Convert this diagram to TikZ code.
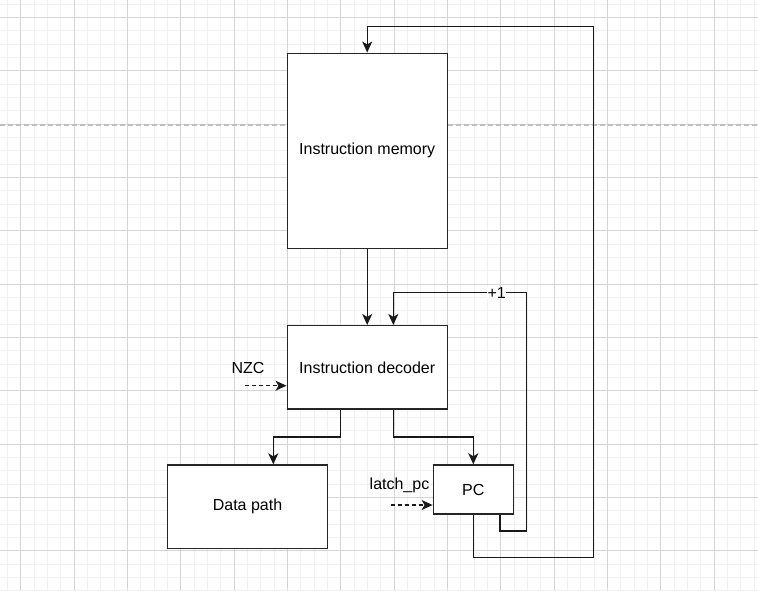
\documentclass[tikz,border=0pt]{standalone}
\usepackage{fontspec}
\setmainfont{Liberation Sans}
\usetikzlibrary{arrows.meta}
\begin{document}
\begin{tikzpicture}[x=1pt,y=-1pt,
  box/.style={draw=black!85,line width=1.4pt,fill=white,inner sep=0pt,font=\fontsize{16}{19}\selectfont},
  wire/.style={line width=1.4pt,draw=black!90,-{Stealth[length=11pt,width=10pt,inset=3pt]}},
  dwire/.style={line width=1.4pt,draw=black!90,dash pattern=on 4pt off 3pt,-{Stealth[length=11pt,width=10pt,inset=3pt]}},
  lbl/.style={font=\fontsize{16}{19}\selectfont,inner sep=1pt}]
\useasboundingbox (0,0) rectangle (758,590);
\fill[white] (0,0) rectangle (758,590);
% minor grid
\foreach \i in {0,...,57} {\draw[line width=0.6pt,draw=black!6] ({7.33+13.333*\i},0) -- ({7.33+13.333*\i},590);}
\foreach \i in {0,...,44} {\draw[line width=0.6pt,draw=black!6] (0,{4+13.333*\i}) -- (758,{4+13.333*\i});}
% major grid
\foreach \i in {0,...,14} {\draw[line width=0.8pt,draw=black!17] ({20.67+53.333*\i},0) -- ({20.67+53.333*\i},590);}
\foreach \i in {0,...,11} {\draw[line width=0.8pt,draw=black!17] (0,{17.33+53.333*\i}) -- (758,{17.33+53.333*\i});}
% page break line
\draw[line width=1.2pt,draw=black!25,dash pattern=on 5pt off 3pt] (0,125) -- (758,125);
% boxes
\node[box,minimum width=160pt,minimum height=195pt] (im) at (367.2,150.7) {Instruction memory};
\node[box,minimum width=160pt,minimum height=83.3pt] (id) at (367.2,367.3) {Instruction decoder};
\node[box,minimum width=159.6pt,minimum height=83.3pt] (dp) at (247.5,506.7) {Data path};
\node[box,minimum width=80pt,minimum height=49pt] (pc) at (473.3,489.5) {PC};
% connectors
\draw[wire] (im.south) -- (id.north);
\draw[wire] (id.south -| 340.7,0) -- (340.7,437) -| (dp.north -| 273.3,0);
\draw[wire] (id.south -| 393.3,0) -- (393.3,437) -| (pc.north);
\draw[wire] (pc.south) -- (473.3,557.7) -- (593.3,557.7) -- (593.3,26.7) -| (im.north);
\draw[wire] (pc.south -| 500,0) -- (500,531) -- (526.7,531) -- (526.7,292.5) -| (id.north -| 393.3,0);
\node[lbl,fill=white,inner sep=0.5pt] (p1) at (496.7,292.5) {+1};
\coordinate (nzcs) at (245,385.7);
\draw[dwire] (nzcs) -- (nzcs -| id.west);
\node[lbl] (nzc) at (248,367.5) {NZC};
\coordinate (lps) at (390.7,505);
\draw[dwire] (lps) -- (lps -| pc.west);
\node[lbl] (lp) at (399.5,485.7) {latch\_pc};
\end{tikzpicture}
\end{document}
